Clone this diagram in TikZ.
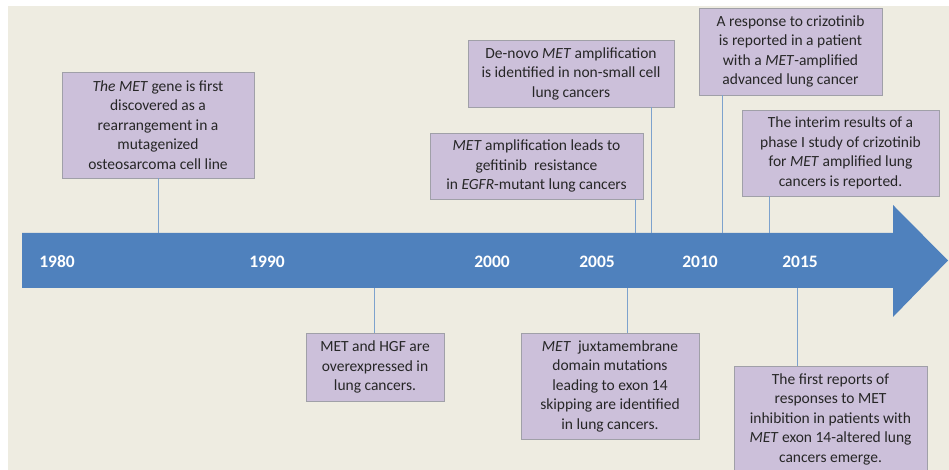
\documentclass[tikz,border=0pt]{standalone}
\usepackage{fontspec}
\setmainfont{Carlito}
\definecolor{paper}{RGB}{238,236,225}
\definecolor{axisblue}{RGB}{79,129,189}
\definecolor{boxlilac}{RGB}{204,192,218}
\definecolor{boxedge}{RGB}{160,160,168}
\definecolor{linkblue}{RGB}{125,162,205}
\usepackage{tikz}

\begin{document}
\begin{tikzpicture}[x=1pt, y=1pt,
    event/.style={rectangle, draw=boxedge, fill=boxlilac, line width=0.8pt,
                  align=center, inner sep=0pt, text=black!85,
                  font=\fontsize{15.5}{19.5}\selectfont},
    year/.style={text=white, font=\fontsize{17.5}{20}\selectfont\bfseries},
    link/.style={linkblue, line width=0.9pt}
  ]
  \clip (0,0) rectangle (949,470);
  \fill[white] (0,0) rectangle (949,470);
  \fill[paper] (8,0) rectangle (949,464);

  \fill[axisblue] (22,182) -- (893,182) -- (893,153) -- (948,209.5)
                  -- (893,265) -- (893,237) -- (22,237) -- cycle;

  \node[year] (y1980) at (57,208) {1980};
  \node[year] (y1990) at (267,208) {1990};
  \node[year] (y2000) at (492,208) {2000};
  \node[year] (y2005) at (597,208) {2005};
  \node[year] (y2010) at (700,208) {2010};
  \node[year] (y2015) at (800,208) {2015};

  \coordinate (t1985) at (158,237);
  \coordinate (t2007) at (635,237);
  \coordinate (t2008) at (651,237);
  \coordinate (t2011) at (722,237);
  \coordinate (t2013) at (769,237);
  \coordinate (t1995) at (374,182);
  \coordinate (t2006) at (627,182);
  \coordinate (t2016) at (797,182);

  \node[event, minimum width=192, minimum height=106] (gene) at (158,345)
    {\textit{The MET} gene is first\\ discovered as a\\ rearrangement in a\\ mutagenized\\ osteosarcoma cell line};
  \node[event, minimum width=206, minimum height=67] (denovo) at (571,396.5)
    {De-novo \textit{MET} amplification\\ is identified in non-small cell\\ lung cancers};
  \node[event, minimum width=213, minimum height=66] (gefit) at (536.5,304)
    {\textit{MET} amplification leads to\\ gefitinib\ \ resistance\\ in \textit{EGFR}-mutant lung cancers};
  \node[event, minimum width=183, minimum height=87] (respond) at (790.5,418.5)
    {A response to crizotinib\\ is reported in a patient\\ with a \textit{MET}-amplified\\ advanced lung cancer};
  \node[event, minimum width=197, minimum height=86] (interim) at (840.5,317)
    {The interim results of a\\ phase I study of crizotinib\\ for \textit{MET} amplified lung\\ cancers is reported.};
  \node[event, minimum width=138, minimum height=68] (hgf) at (375,103)
    {MET and HGF are\\ overexpressed in\\ lung cancers.};
  \node[event, minimum width=178, minimum height=106] (juxta) at (610,84)
    {\textit{MET}\ \ juxtamembrane\\ domain mutations\\ leading to exon 14\\ skipping are identified\\ in lung cancers.};
  \node[event, minimum width=193, minimum height=106] (exon) at (830.5,51)
    {The first reports of\\ responses to MET\\ inhibition in patients with\\ \textit{MET} exon 14-altered lung\\ cancers emerge.};

  \draw[link] (t1985 |- gene.south) -- (t1985);
  \draw[link] (t2007 |- gefit.south) -- (t2007);
  \draw[link] (t2008 |- denovo.south) -- (t2008);
  \draw[link] (t2011 |- respond.south) -- (t2011);
  \draw[link] (t2013 |- interim.south) -- (t2013);
  \draw[link] (t1995 |- hgf.north) -- (t1995);
  \draw[link] (t2006 |- juxta.north) -- (t2006);
  \draw[link] (t2016 |- exon.north) -- (t2016);
\end{tikzpicture}
\end{document}
